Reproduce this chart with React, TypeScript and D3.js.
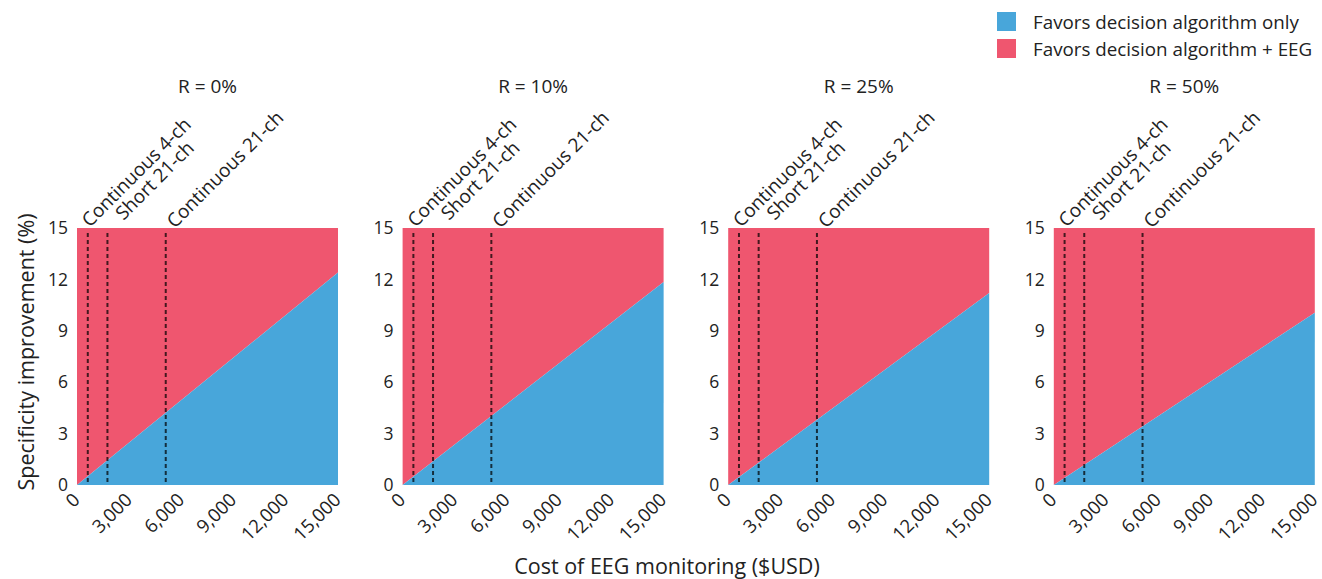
import React from "react";
import * as d3 from "d3";

const panelTitles = ["R = 0%", "R = 10%", "R = 25%", "R = 50%"];
const thresholdAtMax = [12.4, 11.85, 11.2, 10.05];
const costDomain = [0, 15000];
const xTicks = [0, 3000, 6000, 9000, 12000, 15000];
const yTicks = [0, 3, 6, 9, 12, 15];
const modalityNames = ["Continuous 4-ch", "Short 21-ch", "Continuous 21-ch"];
const modalityCosts = [620, 1750, 5100];
const legendLabels = ["Favors decision algorithm only", "Favors decision algorithm + EEG"];

// label placement offsets (px) relative to each dashed line
const labelDx = [2, 16, 9];
const labelDy = [0, -7, 1];

const BLUE = "#48a6da";
const RED = "#ef566f";
const FONT = "'Open Sans', 'Noto Sans', sans-serif";
const TXT = "#222";

export default function App() {
  const W = 1322, H = 579;
  const top = 228, bottom = 485;
  const firstLeft = 77, pw = 261, gap = 325.6;
  const y = d3.scaleLinear().domain([0, 15]).range([bottom, top]);
  const fmt = d3.format(",");

  return (
    <svg width={W} height={H} style={{ position: "absolute", left: 0, top: 0, fontFamily: FONT }}>
      {legendLabels.map((l, i) => (
        <g key={l} transform={`translate(997, ${12 + i * 27})`}>
          <rect width={19} height={19} fill={i === 0 ? BLUE : RED} />
          <text x={36} y={10} dy="0.35em" fontSize={18.8} fill={TXT}>{l}</text>
        </g>
      ))}
      {panelTitles.map((t, p) => {
        const left = firstLeft + p * gap;
        const x = d3.scaleLinear().domain(costDomain).range([left, left + pw]);
        const pts: [number, number][] = [[costDomain[0], 0], [costDomain[1], thresholdAtMax[p]]];
        const redArea = d3.area<[number, number]>().x(d => x(d[0])).y0(() => y(15)).y1(d => y(d[1]));
        const blueArea = d3.area<[number, number]>().x(d => x(d[0])).y0(() => y(0)).y1(d => y(d[1]));
        return (
          <g key={t}>
            <text x={left + pw / 2} y={93} textAnchor="middle" fontSize={19} fill={TXT}>{t}</text>
            <path d={redArea(pts)!} fill={RED} />
            <path d={blueArea(pts)!} fill={BLUE} />
            {modalityCosts.map((c, i) => (
              <g key={i}>
                <line x1={x(c)} x2={x(c)} y1={top + 5} y2={bottom} stroke="#000" strokeOpacity={0.72} strokeWidth={2} strokeDasharray="4,3" />
                <text transform={`translate(${x(c) + labelDx[i]}, ${top + labelDy[i]}) rotate(-45)`} fontSize={19} fill={TXT}>{modalityNames[i]}</text>
              </g>
            ))}
            {yTicks.map(v => (
              <text key={v} x={left - 9} y={y(v)} dy="0.35em" textAnchor="end" fontSize={17.5} fill={TXT}>{v}</text>
            ))}
            {xTicks.map(v => (
              <text key={v} transform={`translate(${x(v) + 4}, ${bottom + 16}) rotate(-45)`} textAnchor="end" fontSize={18.5} fill={TXT}>{fmt(v)}</text>
            ))}
          </g>
        );
      })}
      <text transform={`translate(26, 352) rotate(-90)`} textAnchor="middle" dy="0.35em" fontSize={21.5} fill={TXT}>Specificity improvement (%)</text>
      <text x={667} y={574} textAnchor="middle" fontSize={21.5} fill={TXT}>Cost of EEG monitoring ($USD)</text>
    </svg>
  );
}
